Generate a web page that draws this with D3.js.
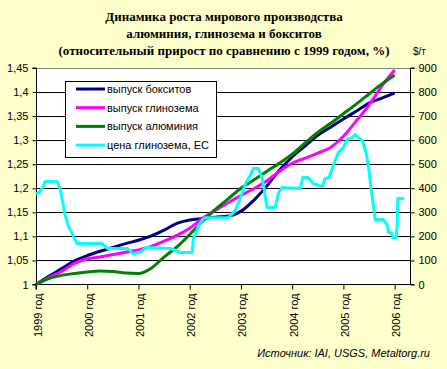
<!DOCTYPE html>
<html><head><meta charset="utf-8">
<script src="https://cdn.jsdelivr.net/npm/d3@7"></script>
<style>
html,body{margin:0;padding:0;background:#FFFFCC;}
svg{display:block;}
</style></head>
<body>
<svg id="c" width="447" height="369"></svg>
<script>
// ---- data ----
const titleLines = ["Динамика роста мирового производства","алюминия, глинозема и бокситов","(относительный прирост по сравнению с 1999 годом, %)"];
const yearTicks = [1999,2000,2001,2002,2003,2004,2005,2006];
const leftTicks = [1,1.05,1.1,1.15,1.2,1.25,1.3,1.35,1.4,1.45];
const rightTicks = [0,100,200,300,400,500,600,700,800,900];
// quarterly time points 1999.00 .. 2006.00
const quarters = [1999,1999.25,1999.5,1999.75,2000,2000.25,2000.5,2000.75,2001,2001.25,2001.5,2001.75,2002,2002.25,2002.5,2002.75,2003,2003.25,2003.5,2003.75,2004,2004.25,2004.5,2004.75,2005,2005.25,2005.5,2005.75,2006];
const bauxite = [1.000,1.017,1.033,1.049,1.060,1.069,1.077,1.085,1.092,1.101,1.113,1.127,1.134,1.137,1.140,1.142,1.152,1.175,1.204,1.2375,1.265,1.2875,1.310,1.327,1.344,1.360,1.377,1.3875,1.398];
const alumina = [1.000,1.0146,1.027,1.044,1.053,1.057,1.0625,1.067,1.072,1.079,1.090,1.102,1.117,1.1375,1.154,1.170,1.185,1.199,1.215,1.235,1.252,1.2625,1.273,1.285,1.308,1.340,1.373,1.4125,1.446];
const aluminium = [1.000,1.0125,1.019,1.023,1.026,1.028,1.027,1.024,1.023,1.034,1.057,1.078,1.104,1.131,1.156,1.178,1.200,1.217,1.235,1.252,1.271,1.294,1.316,1.335,1.355,1.375,1.396,1.417,1.435];
// alumina price, EU ($/t)
const priceT = [1999.00,1999.08,1999.18,1999.41,1999.47,1999.57,1999.63,1999.80,2000.29,2000.39,2000.78,2000.89,2001.03,2001.15,2001.62,2001.81,2002.05,2002.07,2002.16,2002.24,2002.30,2002.75,2002.89,2003.02,2003.10,2003.18,2003.24,2003.34,2003.41,2003.45,2003.51,2003.67,2003.73,2003.80,2004.16,2004.21,2004.31,2004.41,2004.59,2004.64,2004.72,2004.78,2004.84,2004.90,2005.00,2005.07,2005.17,2005.23,2005.29,2005.37,2005.43,2005.46,2005.50,2005.54,2005.58,2005.62,2005.78,2005.86,2005.88,2005.95,2005.97,2006.03,2006.05,2006.06,2006.19];
const priceV = [375,385,428,428,399,287,245,170,170,150,150,129,133,154,150,133,133,191,237,266,278,278,307,378,424,453,482,482,445,399,320,320,378,403,399,445,445,420,407,440,445,482,515,548,569,602,611,623,611,598,557,528,474,399,337,270,270,245,216,212,195,195,253,357,357];
const legendNames = ["выпуск бокситов","выпуск глинозема","выпуск алюминия","цена глинозема, ЕС"];
const colors = ["#000080","#FF00FF","#008000","#00FFFF"];

// ---- chart ----
const svg = d3.select("#c");
const font = "Liberation Sans, Arial, sans-serif";
const L = 36, R = 410, T = 68, B = 284.5;
const x = d3.scaleLinear().domain([1999, 2006.3]).range([L, R]);
const y = d3.scaleLinear().domain([1, 1.45]).range([B, T]);
const y2 = d3.scaleLinear().domain([0, 900]).range([B, T]);

svg.append("rect").attr("width",447).attr("height",369).attr("fill","#FFFFCC");
svg.append("rect").attr("x",L).attr("y",T).attr("width",R-L).attr("height",B-T).attr("fill","#FFFFFF");

// title
svg.append("g").selectAll("text").data(titleLines).join("text")
  .attr("x",224).attr("y",(d,i)=>21+i*17).attr("text-anchor","middle")
  .attr("font-family","Liberation Serif, Times New Roman, serif").attr("font-weight","bold")
  .attr("font-size",13).attr("fill","#000").text(d=>d);
svg.append("text").attr("x",413).attr("y",55).attr("font-family",font).attr("font-size",10).text("$/т");

// gridlines
svg.append("g").selectAll("line").data(leftTicks.filter(v=>v>1 && v<1.45)).join("line")
  .attr("x1",L).attr("x2",R).attr("y1",d=>Math.round(y(d))+0.5).attr("y2",d=>Math.round(y(d))+0.5)
  .attr("stroke","#000").attr("stroke-width",1);
svg.append("line").attr("x1",L).attr("x2",R).attr("y1",T+0.5).attr("y2",T+0.5).attr("stroke","#808080");

// axes
const fmt = v => String(+v.toFixed(2)).replace(".", ",");
const gl = svg.append("g").attr("transform",`translate(${L+0.5},0)`)
  .call(d3.axisLeft(y).tickValues(leftTicks).tickFormat(fmt).tickSize(4).tickPadding(4));
const gr = svg.append("g").attr("transform",`translate(${R+0.5},0)`)
  .call(d3.axisRight(y2).tickValues(rightTicks).tickSize(4).tickPadding(4));
const gx = svg.append("g").attr("transform",`translate(0,${B})`)
  .call(d3.axisBottom(x).tickValues(yearTicks).tickFormat(d=>d+" год").tickSize(5));
[gl,gr,gx].forEach(g=>{
  g.selectAll(".domain").attr("stroke","#000");
  g.selectAll(".tick line").attr("stroke","#000");
  g.selectAll("text").attr("font-family",font).attr("font-size",11).attr("fill","#000");
});
gr.select(".domain").attr("d",`M4,${T}H0V${B}H4`);
gl.select(".domain").attr("d",`M-4,${T}H0V${B}H-4`);
gx.select(".domain").attr("d",`M${L},5V0H${R}`);
gx.selectAll(".tick text").attr("text-anchor","end").attr("dy",null)
  .attr("transform","translate(5,9) rotate(-90)").attr("x",0).attr("y",0);

// lines
const prodSeries = [bauxite, alumina, aluminium];
const line = d3.line().x((d,i)=>x(quarters[i])).y(d=>y(d)).curve(d3.curveMonotoneX);
svg.append("g").selectAll("path").data(prodSeries).join("path")
  .attr("d",d=>line(d)).attr("fill","none").attr("stroke",(d,i)=>colors[i]).attr("stroke-width",3)
  .attr("stroke-linejoin","round");
const pline = d3.line().x((d,i)=>x(priceT[i])).y(d=>y2(d));
svg.append("path").attr("d",pline(priceV)).attr("fill","none").attr("stroke",colors[3])
  .attr("stroke-width",3).attr("stroke-linejoin","round");

// legend
const lg = svg.append("g");
lg.append("rect").attr("x",65.5).attr("y",81.5).attr("width",151).attr("height",76)
  .attr("fill","#FFFFFF").attr("stroke","#000");
const items = lg.selectAll("g").data(legendNames).join("g")
  .attr("transform",(d,i)=>`translate(0,${89+i*18.7})`);
items.append("line").attr("x1",76).attr("x2",105).attr("y1",0).attr("y2",0)
  .attr("stroke",(d,i)=>colors[i]).attr("stroke-width",3);
items.append("text").attr("x",107).attr("y",4).attr("font-family",font).attr("font-size",11).text(d=>d);

// source
svg.append("text").attr("x",430).attr("y",357).attr("text-anchor","end")
  .attr("font-family",font).attr("font-style","italic").attr("font-size",11)
  .text("Источник: IAI, USGS, Metaltorg.ru");
</script>
</body></html>
